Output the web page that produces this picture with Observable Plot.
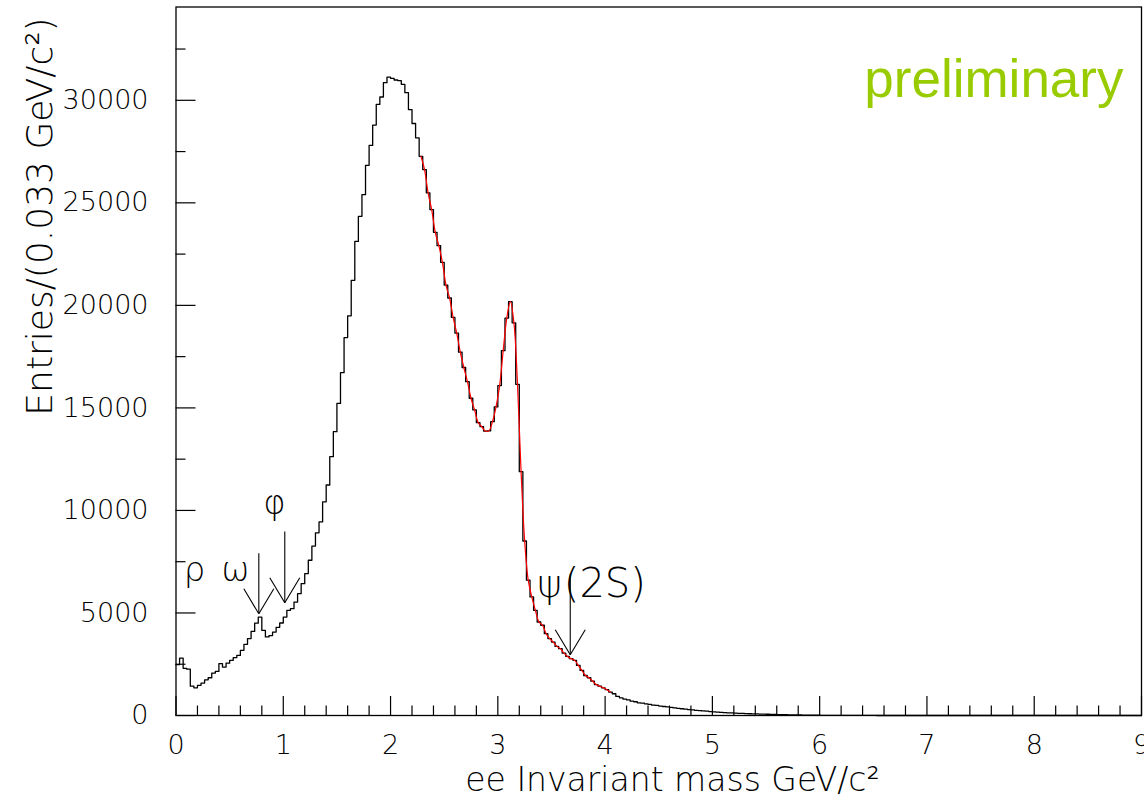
<!DOCTYPE html>
<html><head><meta charset="utf-8">
<script src="https://cdn.jsdelivr.net/npm/d3@7"></script>
<script src="https://cdn.jsdelivr.net/npm/@observablehq/plot@0.6"></script>
<style>
html,body{margin:0;padding:0;background:#fff;}
#chart svg{display:block;}
</style></head><body><div id="chart"></div>
<script>
// ---- data ----
const binWidth = 1 / 30; // 0.033 GeV/c^2
const counts = [
  2480, 2800, 2300, 2260, 1430, 1350, 1470, 1580, 1740, 1840,
  2070, 2150, 2530, 2360, 2550, 2690, 2820, 2930, 3180, 3470,
  3750, 4100, 4500, 4800, 4150, 3830, 3900, 4070, 4300, 4510,
  4800, 5130, 5210, 5530, 5940, 6430, 6920, 7570, 8260, 8910,
  9440, 10420, 11240, 12620, 13840, 15220, 16720, 18430, 19490, 21220,
  23120, 24340, 25400, 26830, 27800, 28790, 29800, 30160, 30860, 31130,
  31070, 30990, 30960, 30780, 30370, 29550, 28870, 28170, 27270, 26620,
  25490, 24670, 23560, 22910, 22100, 20990, 20360, 19410, 18650, 17720,
  16970, 16280, 15470, 14900, 14280, 14090, 13870, 13880, 14330, 15050,
  16090, 17790, 19380, 20180, 19150, 16150, 11890, 8510, 6600, 5780,
  5130, 4560, 4400, 3990, 3750, 3580, 3370, 3260, 3040, 2880,
  2770, 2690, 2440, 2200, 1950, 1840, 1680, 1510, 1430, 1350,
  1260, 1140, 1060, 930, 860, 800, 760, 700, 670, 620,
  600, 570, 540, 510, 490, 460, 440, 420, 400, 370,
  350, 330, 310, 290, 270, 250, 240, 225, 210, 190,
  175, 160, 150, 140, 130, 125, 115, 105, 100, 90,
  85, 80, 75, 70, 65, 60, 55, 50, 45, 40,
  38, 35, 30, 28, 25, 22, 20, 18, 15, 12,
  10, 8, 8, 7, 6, 6, 5, 5, 4, 4,
  3, 3, 3, 2, 2, 2, 1, 1, 1, 1,
  0, 0, 0, 0, 0, 0, 0, 0, 0, 0,
  0, 0, 0, 0, 0, 0, 0, 0, 0, 0,
  0, 0, 0, 0, 0, 0, 0, 0, 0, 0,
  0, 0, 0, 0, 0, 0, 0, 0, 0, 0,
  0, 0, 0, 0, 0, 0, 0, 0, 0, 0,
  0, 0, 0, 0, 0, 0, 0, 0, 0, 0,
  0, 0, 0, 0, 0, 0, 0, 0, 0, 0
];
const fitFirstBin = 68;
const fitLastBin = 121;

const xMajorTicks = [0, 1, 2, 3, 4, 5, 6, 7, 8, 9];
const xTickLabels = ["0", "1", "2", "3", "4", "5", "6", "7", "8", "9"];
const xMinorTicks = [0.2,0.4,0.6,0.8,1.2,1.4,1.6,1.8,2.2,2.4,2.6,2.8,3.2,3.4,3.6,3.8,4.2,4.4,4.6,4.8,
                     5.2,5.4,5.6,5.8,6.2,6.4,6.6,6.8,7.2,7.4,7.6,7.8,8.2,8.4,8.6,8.8];
const yMajorTicks = [0, 5000, 10000, 15000, 20000, 25000, 30000];
const yTickLabels = ["0", "5000", "10000", "15000", "20000", "25000", "30000"];
const yMinorTicks = [2500, 7500, 12500, 17500, 22500, 27500, 32500];
const yMax = 34550;

// resonance arrows (mass position, arrow top, arrow tip)
const arrowX   = [0.772, 1.014, 3.675];
const arrowTop = [7917, 8976, 6912];
const arrowTip = [4961, 5498, 2961];

// resonance labels
const labelText   = ["ρ", "ω", "φ", "ψ", "(2S)"];
const labelX      = [0.172, 0.555, 0.918, 3.365, 3.615];
const labelY      = [6583, 6535, 9802, 5760, 5760];
const labelSize   = [34, 34, 34, 38, 40];
const labelAnchor = ["middle", "middle", "middle", "start", "start"];

const xTitle = "ee Invariant mass GeV/c²";
const yTitle = "Entries/(0.033 GeV/c²)";
const stamp = "preliminary";

// ---- layout ----
const W = 1144, H = 800;
const mL = 175.5, mR = 3, mT = 6.5, mB = 85;
const plotW = W - mL - mR, plotH = H - mT - mB;
const pxPerX = plotW / 9, pxPerY = plotH / yMax;
const font = "'DejaVu Sans', sans-serif";

const histPts = counts.map((c, i) => ({x: i * binWidth, y: c}));
histPts.push({x: counts.length * binWidth, y: counts[counts.length - 1]});
const fitPts = counts.slice(fitFirstBin, fitLastBin + 1)
  .map((c, k) => ({x: (fitFirstBin + k + 0.5) * binWidth, y: c}));

// arrow geometry (shaft + two wings), derived from the arrow data
const wingDX = 15 / pxPerX, wingDY = 25 / pxPerY;
const arrowSegs = [];
arrowX.forEach((x, i) => {
  arrowSegs.push({x1: x, y1: arrowTop[i], x2: x, y2: arrowTip[i]});
  arrowSegs.push({x1: x - wingDX, y1: arrowTip[i] + wingDY, x2: x, y2: arrowTip[i]});
  arrowSegs.push({x1: x + wingDX, y1: arrowTip[i] + wingDY, x2: x, y2: arrowTip[i]});
});
const labels = labelText.map((t, i) => ({t, x: labelX[i], y: labelY[i], s: labelSize[i], a: labelAnchor[i]}));

const chart = Plot.plot({
  width: W, height: H,
  marginLeft: mL, marginRight: mR, marginTop: mT, marginBottom: mB,
  x: {domain: [0, 9], axis: null},
  y: {domain: [0, yMax], axis: null},
  style: {fontFamily: font, fontWeight: 200, background: "#fff", color: "#000"},
  marks: [
    Plot.ruleX(xMajorTicks, {insetTop: plotH - 19, stroke: "#000", strokeWidth: 1.2}),
    Plot.ruleX(xMinorTicks, {insetTop: plotH - 9.5, stroke: "#000", strokeWidth: 1.2}),
    Plot.ruleY(yMajorTicks, {insetRight: plotW - 20, stroke: "#000", strokeWidth: 1.2}),
    Plot.ruleY(yMinorTicks, {insetRight: plotW - 10, stroke: "#000", strokeWidth: 1.2}),
    Plot.line(histPts, {x: "x", y: "y", curve: "step-after", stroke: "#000", strokeWidth: 1.3}),
    Plot.line(fitPts, {x: "x", y: "y", curve: "catmull-rom", stroke: "#ff0000", strokeWidth: 1.2}),
    Plot.link(arrowSegs, {x1: "x1", y1: "y1", x2: "x2", y2: "y2", stroke: "#000", strokeWidth: 1.1}),
    ...labels.map(d => Plot.text([d], {x: "x", y: "y", text: "t", textAnchor: d.a,
      lineAnchor: "bottom", fontSize: d.s, fontWeight: 200, fill: "#000"})),
    Plot.frame({stroke: "#000", strokeWidth: 1.3}),
    Plot.text(xMajorTicks, {x: (d) => d, text: (d, i) => xTickLabels[i], frameAnchor: "bottom",
      dy: 30, lineAnchor: "middle", fontSize: 27, fill: "#000"}),
    Plot.text(yMajorTicks, {y: (d) => d, text: (d, i) => yTickLabels[i], frameAnchor: "left",
      textAnchor: "end", dx: -27.5, lineAnchor: "middle", fontSize: 27, fill: "#000"}),
    Plot.text([xTitle], {text: (d) => d, frameAnchor: "bottom", dx: 672 - (mL + plotW / 2), dy: 75,
      lineAnchor: "bottom", fontSize: 33, fill: "#000"}),
    Plot.text([yTitle], {text: (d) => d, frameAnchor: "left", rotate: -90, dx: 40 - mL,
      dy: 216 - (mT + plotH / 2), lineAnchor: "middle", textAnchor: "middle", fontSize: 36, fill: "#000"}),
    Plot.text([stamp], {text: (d) => d, frameAnchor: "top-right", dx: -18, dy: 96 - mT,
      textAnchor: "end", lineAnchor: "bottom", fontSize: 53, fill: "#99cc00",
      fontFamily: "'Liberation Sans', Arial, sans-serif", fontWeight: 400})
  ]
});
document.getElementById("chart").appendChild(chart);
</script>
</body></html>
